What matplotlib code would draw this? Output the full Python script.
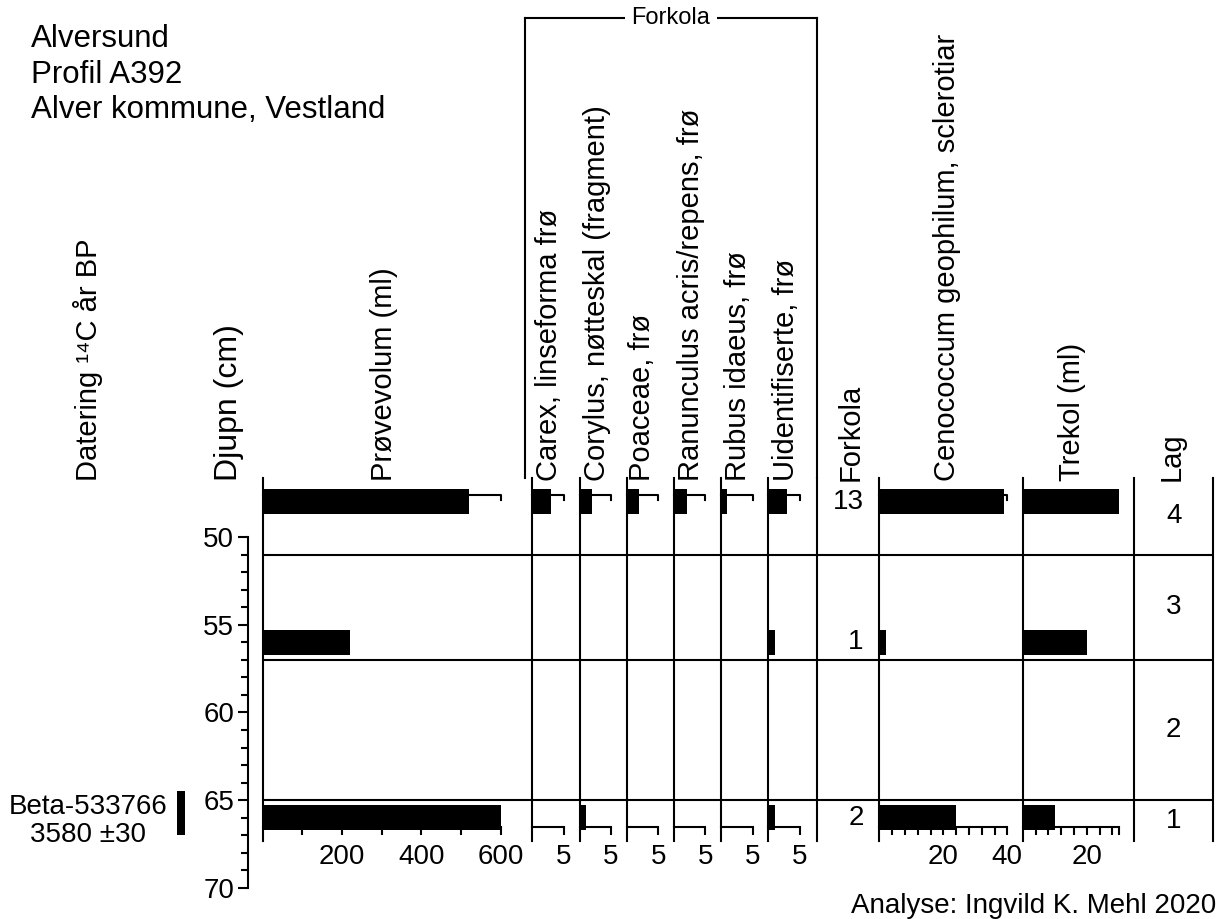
import numpy as np
import matplotlib.pyplot as plt
import matplotlib.transforms as mtransforms
from matplotlib.lines import Line2D

plt.rcParams['font.family'] = ['Liberation Sans', 'DejaVu Sans']

# ---------------------------------------------------------------------------
# data
# ---------------------------------------------------------------------------
depths = [48, 56, 66]                       # sample depth (cm)
provevolum = [520, 220, 600]                # ml
carex = [3, 0, 0]
corylus = [2, 0, 1]
poaceae = [2, 0, 0]
ranunculus = [2, 0, 0]
rubus = [1, 0, 0]
uidentifiserte = [3, 1, 1]
cenococcum = [39, 2, 24]
trekol = [30, 20, 10]                        # ml

seed_names = ['Carex, linseforma frø',
              'Corylus, nøtteskal (fragment)',
              'Poaceae, frø',
              'Ranunculus acris/repens, frø',
              'Rubus idaeus, frø',
              'Uidentifiserte, frø']
seed_values = [carex, corylus, poaceae, ranunculus, rubus, uidentifiserte]
forkola_sum = np.sum(seed_values, axis=0)

layer_bounds = [51, 57, 65]
layer_names = ['4', '3', '2', '1']

dating_lab = 'Beta-533766'
dating_age = '3580 ±30'
dating_interval = [64.5, 67.0]

# ---------------------------------------------------------------------------
# layout (pixels of a 1227 x 919 canvas)
# ---------------------------------------------------------------------------
W, H = 1227, 919
Y_TOP = 478          # pixel row of the top of the panels
PX_CM = 17.55        # pixels per cm of depth
D_TOP = 46.64
D_BOT = 67.35
SCALE_D = 66.5       # depth of the bottom scale lines
TOPLINE_D = 47.6     # depth of the top scale lines
BAR_H = 1.42
LW = 1.5
FS_TICK = 20
FS_HEAD = 21

fig = plt.figure(figsize=(W / 100, H / 100), dpi=100)


def rect(x0, x1, d_bottom):
  y1 = Y_TOP + (d_bottom - D_TOP) * PX_CM
  return [x0 / W, 1 - y1 / H, (x1 - x0) / W, (y1 - Y_TOP) / H]


def panel(x0, x1, ppu, values, vmax, ticks, labels):
  ax = fig.add_axes(rect(x0, x1, D_BOT))
  ax.set_xlim(0, (x1 - x0) / ppu)
  ax.set_ylim(D_BOT, D_TOP)
  ax.patch.set_visible(False)
  ax.spines['top'].set_visible(False)
  ax.spines['right'].set_visible(False)
  ax.spines['left'].set_linewidth(LW)
  ax.spines['bottom'].set_linewidth(LW)
  ax.spines['bottom'].set_position(('data', SCALE_D))
  ax.spines['bottom'].set_bounds(0, vmax)
  ax.set_yticks([])
  ax.barh(depths, values, height=BAR_H, color='black', zorder=3)
  # top scale line, hidden behind the top bar when that bar is full
  if values[0] < vmax:
    ax.plot([0, vmax, vmax], [TOPLINE_D, TOPLINE_D, TOPLINE_D + 0.3],
            color='black', lw=LW, zorder=2, clip_on=False)
  ax.set_xticks(ticks, labels)
  ax.tick_params(axis='x', direction='out', length=5.8, width=LW,
                 labelsize=FS_TICK, pad=7)
  return ax


# Prøvevolum
panel(262.7, 532.3, 238 / 600, provevolum, 600,
      [100, 200, 300, 400, 500, 600], ['', '200', '', '400', '', '600'])

# seed columns
seed_x = [532.3 + 47.2 * i for i in range(6)]
for i, vals in enumerate(seed_values):
  x1 = seed_x[i + 1] if i < 5 else 817.3
  panel(seed_x[i], x1, 6.3, vals, 5, [5], ['5'])

# Forkola sum column
axf = fig.add_axes(rect(817.3, 879.3, D_BOT))
axf.set_ylim(D_BOT, D_TOP)
axf.set_xlim(0, 1)
axf.patch.set_visible(False)
for s in ['top', 'right', 'bottom']:
  axf.spines[s].set_visible(False)
axf.spines['left'].set_linewidth(LW)
axf.set_xticks([])
axf.set_yticks([])
for d, v in zip(depths, forkola_sum):
  axf.text(0.75, d, str(v), ha='right', va='center', fontsize=FS_TICK)

# Cenococcum
panel(879.3, 1022.7, 3.2, cenococcum, 40, list(range(4, 41, 4)),
      ['20' if t == 20 else '40' if t == 40 else '' for t in range(4, 41, 4)])

# Trekol
tk = list(range(4, 29, 4)) + [30]
panel(1022.7, 1134, 3.2, trekol, 30, tk, ['20' if t == 20 else '' for t in tk])

# Lag column
axl = fig.add_axes(rect(1134, 1213.3, D_BOT))
axl.set_ylim(D_BOT, D_TOP)
axl.set_xlim(0, 1)
axl.patch.set_visible(False)
axl.spines['top'].set_visible(False)
axl.spines['bottom'].set_visible(False)
axl.spines['left'].set_linewidth(LW)
axl.spines['right'].set_linewidth(LW)
axl.set_xticks([])
axl.set_yticks([])
edges = [D_TOP] + layer_bounds + [D_BOT]
for i, name in enumerate(layer_names):
  axl.text(0.5, (edges[i] + edges[i + 1]) / 2, name, ha='center', va='center',
           fontsize=FS_TICK)

# layer boundaries across the whole diagram
axh = fig.add_axes(rect(262.7, 1213.3, D_BOT))
axh.set_ylim(D_BOT, D_TOP)
axh.axis('off')
for b in layer_bounds:
  axh.axhline(b, color='black', lw=LW)

# depth axis
axd = fig.add_axes(rect(248.3, 250, 71))
axd.set_ylim(71, D_TOP)
axd.patch.set_visible(False)
for s in ['top', 'right', 'bottom']:
  axd.spines[s].set_visible(False)
axd.spines['left'].set_linewidth(LW)
axd.spines['left'].set_bounds(50, 70)
axd.set_xticks([])
axd.set_yticks([50, 55, 60, 65, 70])
axd.set_yticks(range(50, 71), minor=True)
axd.tick_params(axis='y', which='major', length=7.2, width=LW,
                labelsize=FS_TICK, pad=3)
axd.tick_params(axis='y', which='minor', length=4.8, width=LW)

# radiocarbon dating
axc = fig.add_axes(rect(177, 185, 71))
axc.set_ylim(71, D_TOP)
axc.set_xlim(0, 1)
axc.axis('off')
axc.bar([0.5], [dating_interval[1] - dating_interval[0]],
        bottom=dating_interval[0], width=1.0, color='black')
tr = mtransforms.blended_transform_factory(fig.transFigure, axc.transData)
axc.text(88 / W, np.mean(dating_interval) + 0.42, dating_lab + '\n' + dating_age,
         transform=tr, ha='center', va='center', multialignment='center',
         fontsize=20, linespacing=1.12)

# title
for txt, yb in zip(['Alversund', 'Profil A392', 'Alver kommune, Vestland'],
                   [46.7, 83.3, 118.3]):
  fig.text(30.7 / W, 1 - yb / H, txt, fontsize=22.5, va='baseline', ha='left')

# column headings
headings = [('Datering ¹⁴C år BP', 88, FS_HEAD),
            ('Djupn (cm)', 229, 23),
            ('Prøvevolum (ml)', 384, FS_HEAD)]
headings += [(n, x, FS_HEAD) for n, x in
             zip(seed_names, [549, 597, 642, 691, 738, 786])]
headings += [('Forkola', 851, FS_HEAD),
             ('Cenococcum geophilum, sclerotiar', 947, FS_HEAD),
             ('Trekol (ml)', 1072, FS_HEAD),
             ('Lag', 1172, FS_HEAD)]
for txt, xc, fs in headings:
  fig.text(xc / W, 1 - 481 / H, txt, rotation=90, ha='center', va='bottom',
           fontsize=fs)

# Forkola bracket
bx0, bx1, by, bbot = 525, 817.3, 18.3, 478
for xs, ys in [([bx0, bx0], [bbot, by]), ([bx0, bx1], [by, by]),
               ([bx1, bx1], [by, bbot])]:
  fig.add_artist(Line2D([x / W for x in xs], [1 - y / H for y in ys],
                        color='black', lw=LW))
fig.text(671 / W, 1 - by / H, 'Forkola', ha='center', va='center', fontsize=17,
         bbox=dict(facecolor='white', edgecolor='none', pad=5))

fig.text(1216.7 / W, 1 - 913 / H, 'Analyse: Ingvild K. Mehl 2020',
         ha='right', va='baseline', fontsize=20)

fig.savefig('out.png', dpi=100, facecolor='white')
